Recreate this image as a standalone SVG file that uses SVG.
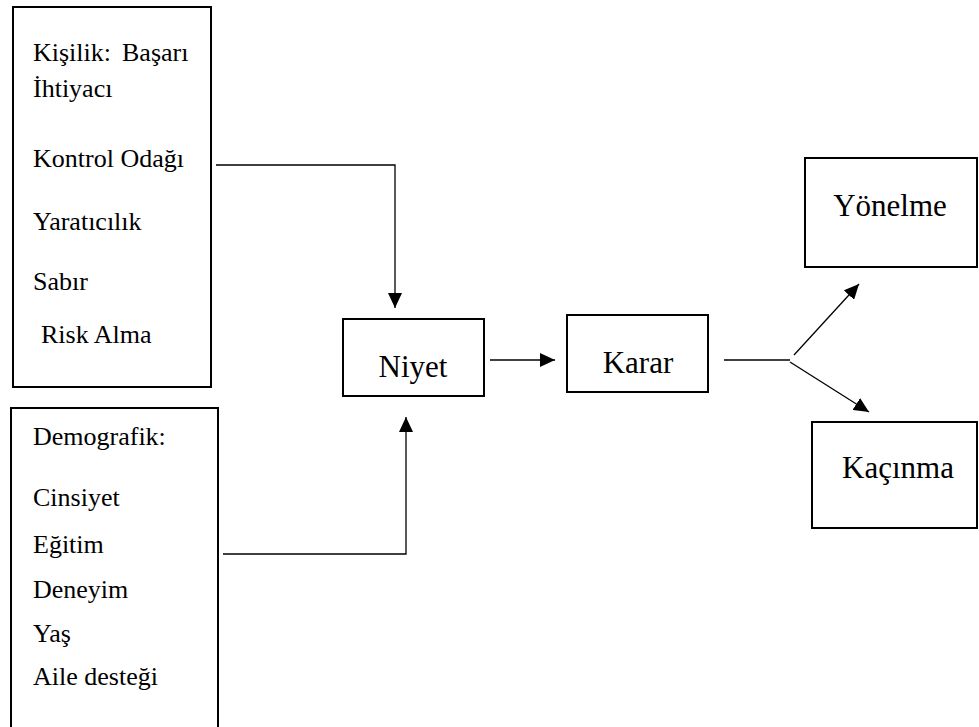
<svg xmlns="http://www.w3.org/2000/svg" width="979" height="727" viewBox="0 0 979 727">
<style>
.box{fill:#fff;stroke:#000;stroke-width:2}
.ln{fill:none;stroke:#000;stroke-width:1.3}
</style>
<defs>
<marker id="ah" markerWidth="15" markerHeight="14" refX="15" refY="7" orient="auto" markerUnits="userSpaceOnUse" viewBox="0 0 15 14">
<path d="M0,0 L15,7 L0,14 Z" fill="#000"/>
</marker>
</defs>
<rect width="979" height="727" fill="#fff"/>
<g id="kisilik" font-family="Liberation Serif, DejaVu Serif, serif" font-size="26" fill="#000">
<rect class="box" x="13" y="7" width="198" height="380"/>
<text x="33" y="61">Kişilik:<tspan x="122">Başarı</tspan></text>
<text x="33" y="97">İhtiyacı</text>
<text x="33" y="167">Kontrol Odağı</text>
<text x="33" y="230">Yaratıcılık</text>
<text x="33" y="290">Sabır</text>
<text x="41" y="343">Risk Alma</text>
</g>
<g id="demografik" font-family="Liberation Serif, DejaVu Serif, serif" font-size="26" fill="#000">
<path class="box" d="M11,740 L11,408 L218,408 L218,740"/>
<text x="33" y="445">Demografik:</text>
<text x="33" y="506">Cinsiyet</text>
<text x="33" y="553">Eğitim</text>
<text x="33" y="598">Deneyim</text>
<text x="33" y="642">Yaş</text>
<text x="33" y="685">Aile desteği</text>
</g>
<g id="niyet" font-family="Liberation Serif, DejaVu Serif, serif" font-size="31" fill="#000">
<rect class="box" x="343" y="319" width="141" height="77"/>
<text x="413" y="377" text-anchor="middle">Niyet</text>
</g>
<g id="karar" font-family="Liberation Serif, DejaVu Serif, serif" font-size="31" fill="#000">
<rect class="box" x="567" y="315" width="141" height="77"/>
<text x="638" y="373" text-anchor="middle">Karar</text>
</g>
<g id="yonelme" font-family="Liberation Serif, DejaVu Serif, serif" font-size="31" fill="#000">
<rect class="box" x="805" y="158" width="172" height="109"/>
<text x="890" y="216" text-anchor="middle">Yönelme</text>
</g>
<g id="kacinma" font-family="Liberation Serif, DejaVu Serif, serif" font-size="31" fill="#000">
<rect class="box" x="812" y="422" width="165" height="106"/>
<text x="898" y="478" text-anchor="middle">Kaçınma</text>
</g>
<g id="connectors">
<polyline class="ln" points="216,165 395,165 395,308" marker-end="url(#ah)"/>
<polyline class="ln" points="223,554 406,554 406,417" marker-end="url(#ah)"/>
<line class="ln" x1="490" y1="360" x2="555" y2="360" marker-end="url(#ah)"/>
<line class="ln" x1="724" y1="360" x2="790" y2="360"/>
<line class="ln" x1="794" y1="355" x2="859" y2="284" marker-end="url(#ah)"/>
<line class="ln" x1="790" y1="362" x2="869" y2="412" marker-end="url(#ah)"/>
</g>
</svg>
